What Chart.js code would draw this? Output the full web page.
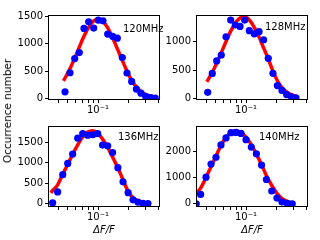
<!DOCTYPE html>
<html><head><meta charset="utf-8">
<script src="https://cdn.jsdelivr.net/npm/chart.js@4"></script>
<style>
html,body{margin:0;padding:0;background:#fff;}
body{width:320px;height:240px;position:relative;overflow:hidden;}
canvas{position:absolute;}
#ylab{position:absolute;font:10.5px 'DejaVu Sans';color:#000;white-space:nowrap;left:7px;top:110.5px;transform:translate(-50%,-50%) rotate(-90deg);}
</style></head><body>
<canvas id="c1"></canvas><canvas id="c2"></canvas><canvas id="c3"></canvas><canvas id="c4"></canvas>
<div id="ylab">Occurrence number</div>
<script>
// ---- data ----
const panelLabels = ['120MHz', '128MHz', '136MHz', '140MHz'];
const xAxisTitle = 'ΔF/F';
const xTickValues = [0.04, 0.05, 0.06, 0.07, 0.08, 0.09, 0.1, 0.2, 0.3, 0.4];
const xMajorTick = 0.1;
const xMajorLabel = '10⁻¹';

const x120 = [0.0468, 0.0525, 0.0585, 0.065, 0.0724, 0.0807, 0.0906, 0.1007, 0.1122, 0.125, 0.140, 0.156, 0.175, 0.195, 0.217, 0.242, 0.269, 0.300, 0.337, 0.374];
const n120 = [120, 470, 730, 840, 1285, 1405, 1290, 1435, 1425, 1180, 1140, 1105, 750, 465, 310, 170, 95, 35, 15, 5];
const fitX120 = [0.0452, 0.0468, 0.0525, 0.0585, 0.065, 0.0724, 0.0807, 0.0906, 0.1007, 0.1122, 0.125, 0.140, 0.156, 0.175, 0.195, 0.217, 0.242, 0.269, 0.300, 0.337, 0.374];
const fit120 = [320, 373, 546, 738, 940, 1139, 1306, 1422, 1455, 1410, 1293, 1111, 913, 696, 500, 330, 210, 125, 70, 38, 20];
const yTicks120 = [0, 500, 1000, 1500];

const x128 = [0.0414, 0.0460, 0.0509, 0.0566, 0.0631, 0.0703, 0.0782, 0.0871, 0.0970, 0.108, 0.121, 0.135, 0.150, 0.167, 0.186, 0.206, 0.229, 0.255, 0.284, 0.316];
const n128 = [105, 440, 660, 765, 1088, 1383, 1295, 1270, 1383, 1195, 1140, 1177, 1035, 707, 442, 225, 140, 65, 27, 8];
const fitX128 = [0.0405, 0.0414, 0.0460, 0.0509, 0.0566, 0.0631, 0.0703, 0.0782, 0.0871, 0.0970, 0.108, 0.121, 0.135, 0.150, 0.167, 0.186, 0.206, 0.229, 0.255, 0.284, 0.316];
const fit128 = [292, 318, 457, 618, 806, 1004, 1187, 1330, 1420, 1440, 1384, 1255, 1085, 890, 698, 480, 310, 190, 115, 65, 35];
const yTicks128 = [0, 500, 1000];

const x136 = [0.0352, 0.0395, 0.0444, 0.0498, 0.0558, 0.0627, 0.0703, 0.0789, 0.0885, 0.0993, 0.111, 0.125, 0.140, 0.158, 0.178, 0.200, 0.224, 0.251, 0.282, 0.316];
const n136 = [20, 285, 710, 985, 1215, 1605, 1718, 1680, 1690, 1718, 1436, 1420, 1252, 880, 533, 266, 91, 37, 5, 0];
const fitX136 = [0.0337, 0.0352, 0.0395, 0.0444, 0.0498, 0.0558, 0.0627, 0.0703, 0.0789, 0.0885, 0.0993, 0.111, 0.125, 0.140, 0.158, 0.178, 0.200, 0.224, 0.251, 0.282, 0.316];
const fit136 = [265, 320, 460, 720, 960, 1210, 1443, 1634, 1756, 1790, 1730, 1586, 1381, 1140, 878, 580, 300, 145, 65, 28, 12];
const yTicks136 = [0, 500, 1000, 1500];

const x140 = [0.0318, 0.0352, 0.0398, 0.0447, 0.0501, 0.0562, 0.0631, 0.0708, 0.0794, 0.0891, 0.1, 0.113, 0.127, 0.143, 0.160, 0.181, 0.204, 0.229, 0.259, 0.290];
const n140 = [0, 360, 1020, 1520, 1780, 2250, 2520, 2720, 2730, 2690, 2450, 2170, 1910, 1480, 930, 490, 220, 70, 15, 0];
const fitX140 = [0.03162, 0.0352, 0.0398, 0.0447, 0.0501, 0.0562, 0.0631, 0.0708, 0.0794, 0.0891, 0.1, 0.113, 0.127, 0.143, 0.160, 0.181, 0.204, 0.229, 0.259, 0.290];
const fit140 = [400, 600, 1000, 1420, 1830, 2230, 2540, 2730, 2790, 2730, 2550, 2260, 1900, 1500, 1080, 700, 400, 200, 90, 40];
const yTicks140 = [0, 1000, 2000];

// ---- rendering ----
Chart.defaults.font.family = "'DejaVu Sans'";
Chart.defaults.font.size = 10;
Chart.defaults.color = '#000';

const X_MIN = 0.03162, X_MAX = 0.4169;

const framePlugin = {
  id: 'frame',
  afterDraw(chart) {
    const {ctx, chartArea: a} = chart;
    ctx.save();
    ctx.strokeStyle = '#000';
    ctx.lineWidth = 1;
    ctx.strokeRect(Math.round(a.left) + 0.5, Math.round(a.top) + 0.5,
      Math.round(a.right - a.left) - 1, Math.round(a.bottom - a.top) - 1);
    ctx.restore();
  }
};
const labelPlugin = {
  id: 'panelLabel',
  afterDraw(chart, args, opts) {
    const {ctx, chartArea: a} = chart;
    ctx.save();
    ctx.font = "10px 'DejaVu Sans'";
    ctx.fillStyle = '#000';
    ctx.textBaseline = 'alphabetic';
    ctx.textAlign = 'left';
    ctx.fillText(opts.text, a.left + opts.dx, a.top + opts.dy);
    ctx.restore();
  }
};

function pts(xs, ys) { return xs.map((x, i) => ({x: x, y: ys[i]})); }

function panel(id, box, xs, ys, fxs, fys, yMin, yMax, yTicks, label, lpos, showTitle) {
  const cv = document.getElementById(id);
  cv.style.left = box.left + 'px'; cv.style.top = box.top + 'px';
  cv.width = box.w; cv.height = box.h;
  cv.style.width = box.w + 'px'; cv.style.height = box.h + 'px';
  new Chart(cv, {
    type: 'scatter',
    data: {datasets: [
      {data: pts(xs, ys), backgroundColor: '#0000ff', borderColor: '#0000ff',
       pointRadius: 3.6, pointBorderWidth: 0, pointHoverRadius: 3.6, showLine: false, order: 0},
      {data: pts(fxs, fys), borderColor: '#ff0000', backgroundColor: '#ff0000', borderWidth: 3.5,
       pointRadius: 0, pointHoverRadius: 0, showLine: true, cubicInterpolationMode: 'monotone', order: 1}
    ]},
    options: {
      responsive: false, animation: false, events: [],
      layout: {padding: {top: box.pt, right: box.pr, left: 0, bottom: 0}},
      plugins: {legend: {display: false}, tooltip: {enabled: false},
        panelLabel: {text: label, dx: lpos[0], dy: lpos[1]}},
      scales: {
        x: {
          type: 'logarithmic', min: X_MIN, max: X_MAX,
          afterBuildTicks: s => { s.ticks = xTickValues.map(v => ({value: v, major: v === xMajorTick})); },
          afterFit: s => { s.height = box.xh; },
          ticks: {autoSkip: false, maxRotation: 0, minRotation: 0, padding: 1, color: '#000',
            font: {size: 10}, callback: v => (v === xMajorTick ? xMajorLabel : '')},
          grid: {drawOnChartArea: false, drawTicks: true, tickLength: 3, color: '#000'},
          border: {display: false},
          title: showTitle ? {display: true, text: xAxisTitle, color: '#000',
            font: {size: 10, style: 'italic'}, padding: {top: 0, bottom: 4}} : {display: false}
        },
        y: {
          type: 'linear', min: yMin, max: yMax,
          afterBuildTicks: s => { s.ticks = yTicks.map(v => ({value: v})); },
          afterFit: s => { s.width = box.yw; },
          ticks: {padding: 2, color: '#000', font: {size: 10}, callback: v => String(v)},
          grid: {drawOnChartArea: false, drawTicks: true, tickLength: 3, color: '#000'},
          border: {display: false}
        }
      }
    },
    plugins: [framePlugin, labelPlugin]
  });
}

panel('c1', {left: 0, top: 0, w: 165, h: 118, pt: 15, pr: 5, yw: 48, xh: 18},
  x120, n120, fitX120, fit120, -31, 1531, yTicks120, panelLabels[0], [75, 17], false);
panel('c2', {left: 165, top: 0, w: 150, h: 118, pt: 15, pr: 7, yw: 31, xh: 18},
  x128, n128, fitX128, fit128, -30, 1472, yTicks128, panelLabels[1], [69, 15], false);
panel('c3', {left: 0, top: 118, w: 165, h: 122, pt: 2, pr: 5, yw: 48, xh: 33},
  x136, n136, fitX136, fit136, -85, 1905, yTicks136, panelLabels[2], [70, 14], true);
panel('c4', {left: 165, top: 118, w: 150, h: 122, pt: 2, pr: 7, yw: 31, xh: 33},
  x140, n140, fitX140, fit140, -121, 2974, yTicks140, panelLabels[3], [63, 14], true);
</script>
</body></html>
